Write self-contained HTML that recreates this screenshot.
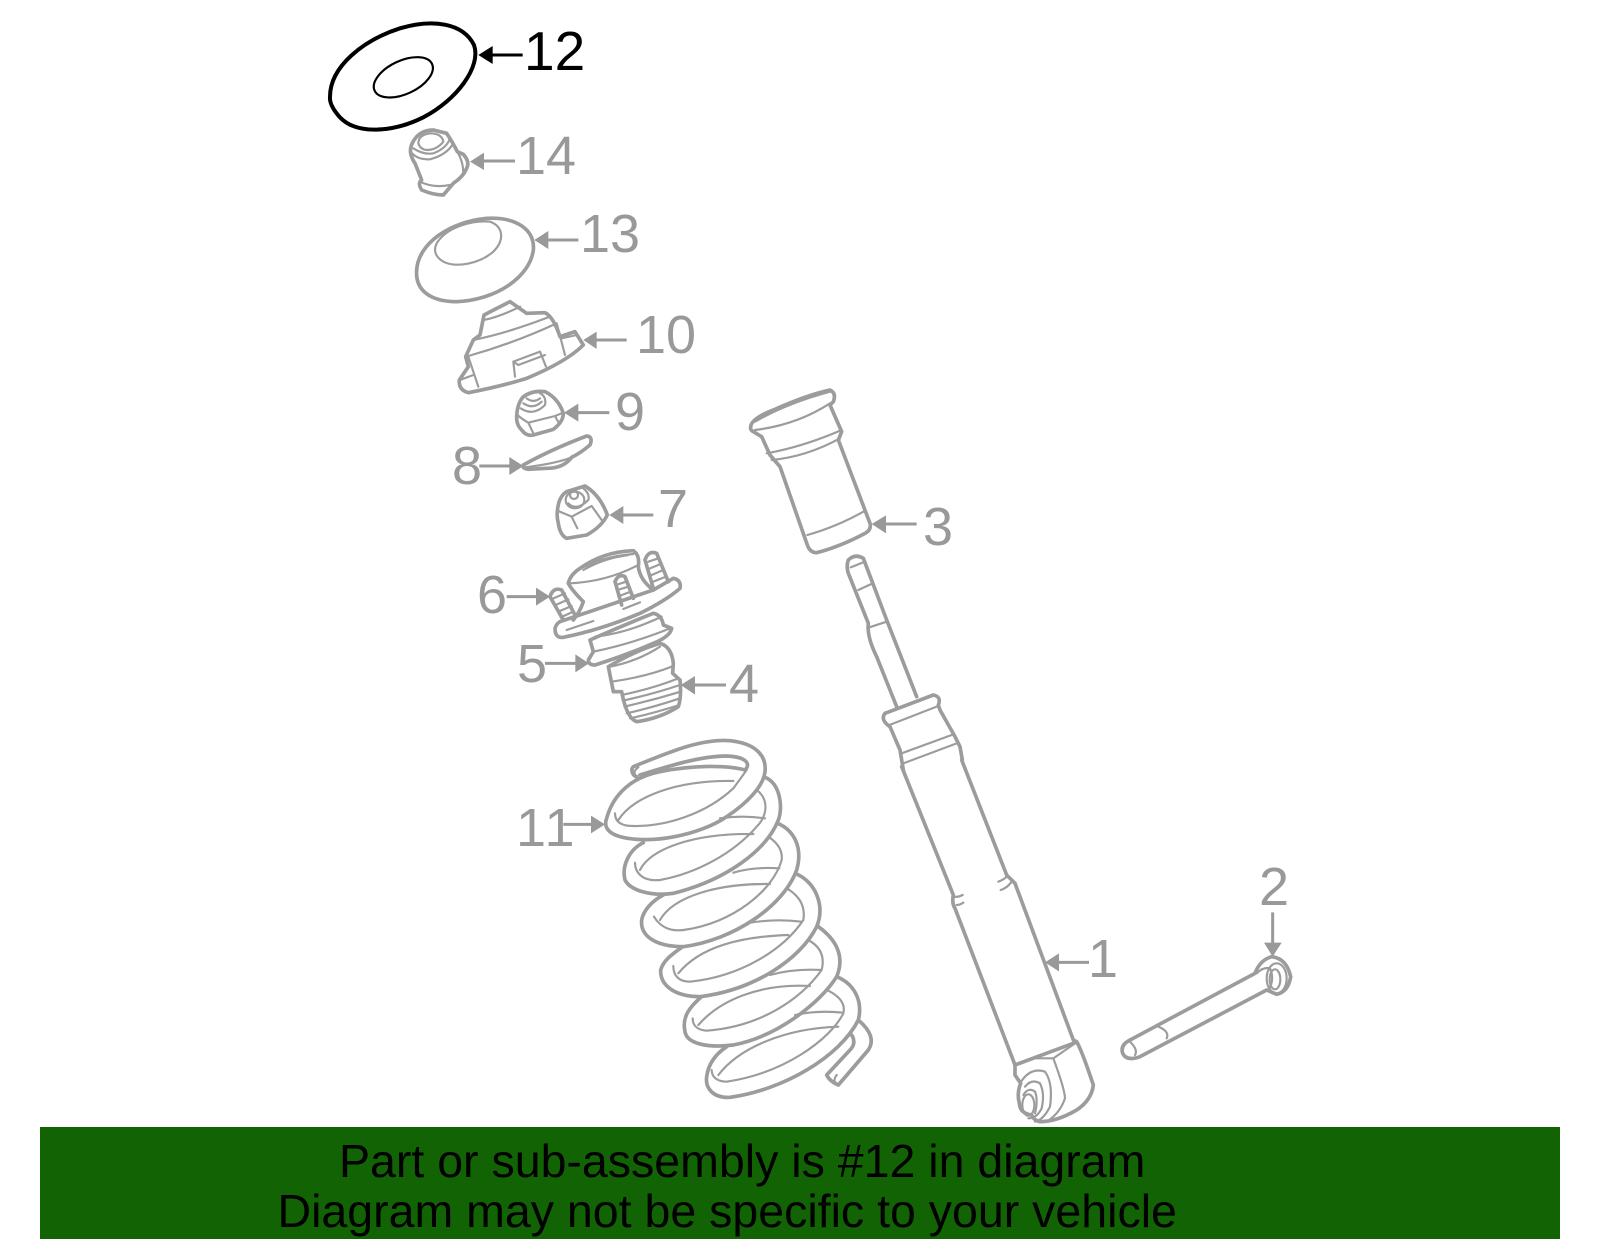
<!DOCTYPE html>
<html><head><meta charset="utf-8"><style>
html,body{margin:0;padding:0;background:#fff}
svg{display:block}
text{font-family:"Liberation Sans",sans-serif}
.d{font-size:54px;fill:#999}
.g{fill:none;stroke:#9c9c9c;stroke-width:11;stroke-linejoin:round;stroke-linecap:round}
.t{stroke-width:6.5}
.a{fill:#999;stroke:none}
.l{stroke:#999;stroke-width:9;fill:none}
</style></head><body>
<svg width="1600" height="1249" viewBox="0 0 1600 1249" xmlns="http://www.w3.org/2000/svg">
<rect width="1600" height="1249" fill="#fff"/>

<!-- zoom 1 group -->
<g transform="translate(300,0) scale(.33333)">
<g fill="none" stroke="#000" stroke-linejoin="round">
<path stroke-width="12" d="M90 290C90 200 190 120 300 85C400 55 490 70 522 135C545 200 470 300 370 352C280 397 170 405 120 352C100 330 88 310 90 290Z"/>
<ellipse cx="310" cy="232" rx="95" ry="50" transform="rotate(-25 310 232)" stroke-width="6.5"/>
</g>
<path d="M668 165H570" stroke="#000" stroke-width="9"/><path d="M535 165L578 138V192Z"/>
<g class="g">
<!-- 13 -->
<path d="M350 810C355 730 450 665 560 655C650 650 705 690 700 750C690 830 590 900 470 905C390 905 345 870 350 810Z"/>
<path class="t" d="M410 730C440 680 520 660 570 665C610 680 615 720 580 755C540 790 470 805 430 785C405 770 400 750 410 730Z"/>
<!-- 10 -->
<path d="M497 1070L520 1020L540 1005L552 945Q590 925 630 905L680 940L735 938Q760 950 780 1010L825 995L850 1035Q800 1085 680 1135Q600 1160 505 1178Q475 1170 478 1140L505 1100Z"/>
<path class="t" d="M520 1020Q620 1000 750 950M505 1068Q640 1030 770 970M552 960Q600 950 660 920M505 1070L535 1160M770 970L795 1065M480 1140L520 1125M785 1015L830 1005M645 1130L640 1085L720 1055L738 1100M640 1085L655 1095L735 1065"/>
</g>
<path class="l" d="M645 483H540M835 720H735M980 1020H880"/>
<path class="a" d="M510 485L552 458V510ZM703 720L745 693V747ZM850 1020L890 995V1047Z"/>
</g>

<!-- 14 -->
<g transform="translate(400,120) scale(.33333)">
<g class="g">
<path d="M32 100Q28 75 50 50Q70 30 100 30L140 40Q160 70 172 95L190 103Q210 125 200 145Q190 170 160 190L130 225Q100 225 65 210Q55 195 60 185L65 180L45 130Q35 115 32 100Z"/>
<path class="t" d="M32 95Q50 120 90 118Q140 105 160 70M40 85Q70 105 100 100Q140 85 150 55M55 70Q55 45 90 40Q125 40 130 65Q110 90 80 90Q60 88 55 70ZM172 95Q190 125 190 160M60 185Q100 205 150 195"/>
</g>
</g>

<!-- 9 and 7 -->
<g transform="translate(500,380) scale(.33333)">
<g class="g">
<path d="M50 115Q50 75 68 52Q95 30 135 35Q175 55 190 100Q190 125 160 148L100 165Q80 170 65 150Q50 135 50 115Z"/>
<path class="t" d="M52 105Q70 120 85 128L165 108L190 98M85 128L100 160M165 108L178 132M62 85Q100 110 135 75Q140 50 120 40M70 70Q100 90 125 65M80 55Q100 70 120 55"/>
<path d="M172 395Q175 350 200 335L255 318Q300 345 322 405Q305 440 260 465L200 475Q180 465 175 430Q170 410 172 395Z"/>
<path class="t" d="M172 392L215 410L275 378L305 420M215 410L232 445M205 370Q230 395 265 360Q270 340 250 325"/>
<ellipse class="t" cx="225" cy="360" rx="28" ry="25"/><circle class="t" cx="222" cy="345" r="12"/>
</g>
</g>

<!-- 6 -->
<g transform="translate(540,540) scale(.33333)">
<g class="g">
<path d="M45 265Q50 250 60 245L340 150L400 115Q425 120 420 145Q380 180 300 220Q180 270 70 292Q45 295 45 265Z"/>
<path d="M85 130Q90 105 120 85Q190 35 280 32Q300 45 295 80Q300 120 340 150M85 130Q95 150 130 185Q120 215 100 240"/>
<path class="t" d="M105 95Q180 50 280 42M90 130Q200 125 295 75M130 90Q190 55 265 45"/>
<path d="M340 145L315 60Q325 30 350 40L385 125M245 195L225 125Q235 100 255 110L280 175M70 240L30 170Q40 140 65 150L105 225"/>
<path class="t" d="M325 65L355 55M330 85L362 72M335 105L370 90M340 125L378 110M228 135L258 125M232 150L265 140M238 168L272 155M243 185L278 172M40 175L75 160M47 195L85 178M55 215L95 198M62 232L100 215M80 270L160 243M250 207L300 187"/>
</g>
</g>

<!-- zoom 2 group -->
<g transform="translate(440,380) scale(.33333)">
<g class="g">
<!-- 8 -->
<path d="M250 255Q330 210 440 168Q460 170 450 195Q420 220 395 232Q370 265 320 265L265 268Q245 265 250 255Z"/>
<path class="t" d="M255 262Q350 250 395 232"/>
<!-- 5 -->
<path d="M450 780Q540 740 640 700Q665 705 670 735L695 745Q690 770 640 790Q560 825 465 855Q445 855 445 840L460 815Z"/>
<path class="t" d="M465 770Q560 760 665 710M460 815Q580 790 690 745"/>
<!-- 4 -->
<path d="M505 860Q590 810 660 790Q695 800 700 850L698 880L720 900Q725 950 715 980Q660 1015 590 1025Q560 1015 545 935L520 935Z"/>
<path class="t" d="M515 905Q620 890 695 860M510 860Q590 845 660 800M545 945Q640 925 715 895M548 962Q640 942 720 915M553 980Q640 960 722 935M560 1000Q640 982 720 955M570 1015Q640 1000 718 975"/>
</g>
<path class="l" d="M508 98H405M118 258H220M640 405H540M200 650H300M315 850H415M858 915H755"/>
<path class="a" d="M372 98L415 71V125ZM250 258L208 231V285ZM508 405L550 378V432ZM330 650L288 623V677ZM447 850L406 823V877ZM722 915L765 888V944Z"/>
</g>

<!-- spring -->
<g transform="translate(500,720) scale(.33333)">
<g class="g">
<path d="M410 170C400 170 390 150 400 140C500 100 600 55 690 62C770 70 800 110 795 155C790 200 740 250 680 290C600 345 450 375 360 350C325 340 310 320 320 295C340 220 400 170 480 155C580 135 680 135 735 150C755 130 735 110 680 108C600 108 500 140 420 165"/>
<path d="M795 172C840 190 850 260 835 300C800 390 680 480 520 520C450 530 390 510 375 480C365 440 385 390 430 368"/>
<path d="M833 310C880 330 910 380 890 450C850 560 700 660 550 680C470 680 420 650 425 600C430 570 460 540 490 525"/>
<path d="M890 462C950 490 975 560 950 620C900 720 760 810 600 830C530 830 480 800 482 750C490 720 520 700 548 680"/>
<path d="M955 620C1010 660 1035 710 1010 770C960 850 830 950 700 975C620 985 560 970 555 935C545 890 570 860 605 830"/>
<path d="M1010 770C1060 790 1090 840 1075 900C1020 1010 850 1110 690 1132C640 1135 615 1105 620 1070C625 1030 650 1000 680 980"/>
<path d="M1075 900C1110 930 1125 960 1105 990L1015 1095Q990 1085 980 1065L1050 990Q1070 970 1055 945"/>
<g class="t">
<path d="M345 280Q345 318 400 318C500 320 620 280 700 205L740 150M355 300C400 230 530 180 700 183"/>
<path d="M770 210C810 240 800 290 770 320C700 400 590 460 480 480C430 485 405 460 405 428M420 450C450 390 570 340 760 342M660 295Q730 285 795 295"/>
<path d="M805 350Q850 380 845 420C820 510 700 610 550 630C510 635 480 620 462 590M480 600C520 530 650 490 810 492M700 458Q760 440 838 445"/>
<path d="M860 505Q920 540 910 600C850 690 720 770 570 785C530 785 520 760 520 738M535 760C600 680 720 650 865 645M740 610Q820 595 905 605"/>
<path d="M925 660Q980 690 965 750C900 840 780 920 620 932C590 930 578 915 578 895M595 915C660 840 780 790 930 798M810 765Q880 745 965 750"/>
<path d="M985 812Q1040 840 1030 880C990 960 850 1060 680 1085C650 1085 635 1070 635 1050M655 1065C720 980 860 925 1015 920M885 885Q950 870 1030 878"/>
<path d="M1015 1095Q995 1085 1010 1065M410 170Q395 155 415 142"/>
</g>
</g>
<path class="l" d="M190 313H285"/><path class="a" d="M315 313L273 287V340Z"/>
</g>

<!-- zoom 4 group -->
<g transform="translate(730,370) scale(.33333)">
<g class="g">
<path d="M62 170Q65 145 130 120Q230 75 300 60Q320 70 310 95L300 105L335 185L325 210L420 460Q425 480 405 490Q330 530 260 548Q240 548 232 525L150 290L120 255L95 200L70 185Q60 180 62 170Z"/>
<path class="t" d="M75 155Q170 100 300 65M75 180Q200 165 300 100M110 250Q220 230 335 180M125 270Q230 260 330 205M232 495Q320 470 400 425"/>
<path d="M560 980L470 750L400 565Q375 550 355 570Q348 590 355 610L415 760Q410 800 440 860L500 1010"/>
<path class="t" d="M362 592L405 575M385 660L428 640M418 772L470 755"/>
<path d="M465 1030L610 975Q635 980 625 1005L630 1020L675 1100L690 1130L697 1170M465 1030Q450 1050 480 1070L510 1140L520 1200"/>
<path class="t" d="M478 1065L620 1010M515 1150L665 1095M520 1180L680 1120"/>
</g>
<path class="l" d="M560 462H460"/><path class="a" d="M425 462L468 436V490Z"/>
</g>

<!-- zoom 5 group -->
<g transform="translate(900,760) scale(.33333)">
<g class="g">
<path d="M5 20L160 405Q155 430 165 445L345 915"/>
<path d="M185 0L320 345L345 370L520 840L530 845Q545 870 580 975Q575 1020 530 1050Q470 1085 420 1085Q400 1080 395 1065Q360 1060 358 1030Q350 1000 362 970L345 945L345 915L525 848"/>
<g class="t">
<path d="M400 895L460 895L525 850M460 895Q495 990 495 1015Q480 1060 440 1085"/>
<path d="M160 410Q175 412 188 405M170 435Q180 435 190 428M320 350Q310 360 295 365M335 365Q320 385 302 390"/>
</g>
<path d="M690 840L1065 640Q1080 600 1115 590Q1160 595 1172 650Q1165 695 1130 703L1100 690L720 890Q680 905 668 880Q660 855 690 840Z"/>
<g class="t">
<path d="M690 845Q715 870 705 885M775 800Q810 815 800 835M1070 640Q1090 620 1110 625Q1125 660 1105 690"/>
<ellipse cx="1130" cy="655" rx="30" ry="45"/><ellipse cx="1125" cy="658" rx="16" ry="30"/>
</g>
</g>
<path class="l" d="M567 607H465M1118 457V555"/>
<path class="a" d="M435 607L477 580V634ZM1118 590L1092 548H1145Z"/>
</g>

<!-- bottom nut of shock -->
<g transform="translate(970,1020) scale(.33333)">
<g class="g t">
<path d="M150 190Q180 140 225 155Q250 190 240 260Q220 300 195 305"/>
<path d="M165 200Q185 175 210 190Q225 220 215 265Q200 295 175 295"/>
<path d="M160 225Q175 200 195 215Q205 240 195 280"/>
<ellipse cx="175" cy="255" rx="18" ry="32"/>
</g>
</g>

<text x="524" y="70" font-size="55" fill="#000">12</text>
<text class="d" x="516" y="174">14</text>
<text class="d" x="580" y="252">13</text>
<text class="d" x="636" y="353">10</text>
<text class="d" x="615" y="430">9</text>
<text class="d" x="452" y="484">8</text>
<text class="d" x="658" y="527">7</text>
<text class="d" x="477" y="613">6</text>
<text class="d" x="517" y="682">5</text>
<text class="d" x="729" y="702">4</text>
<text class="d" x="923" y="545">3</text>
<text class="d" x="516" y="846" letter-spacing="2.5">11</text>
<text class="d" x="1088" y="977">1</text>
<text class="d" x="1259" y="905">2</text>

<rect x="40" y="1127" width="1520" height="112" fill="#116304"/>
<text x="339" y="1177" font-size="46.5" fill="#000">Part or sub-assembly is #12 in diagram</text>
<text x="277.5" y="1227" font-size="46.5" fill="#000">Diagram may not be specific to your vehicle</text>
</svg>
</body></html>
